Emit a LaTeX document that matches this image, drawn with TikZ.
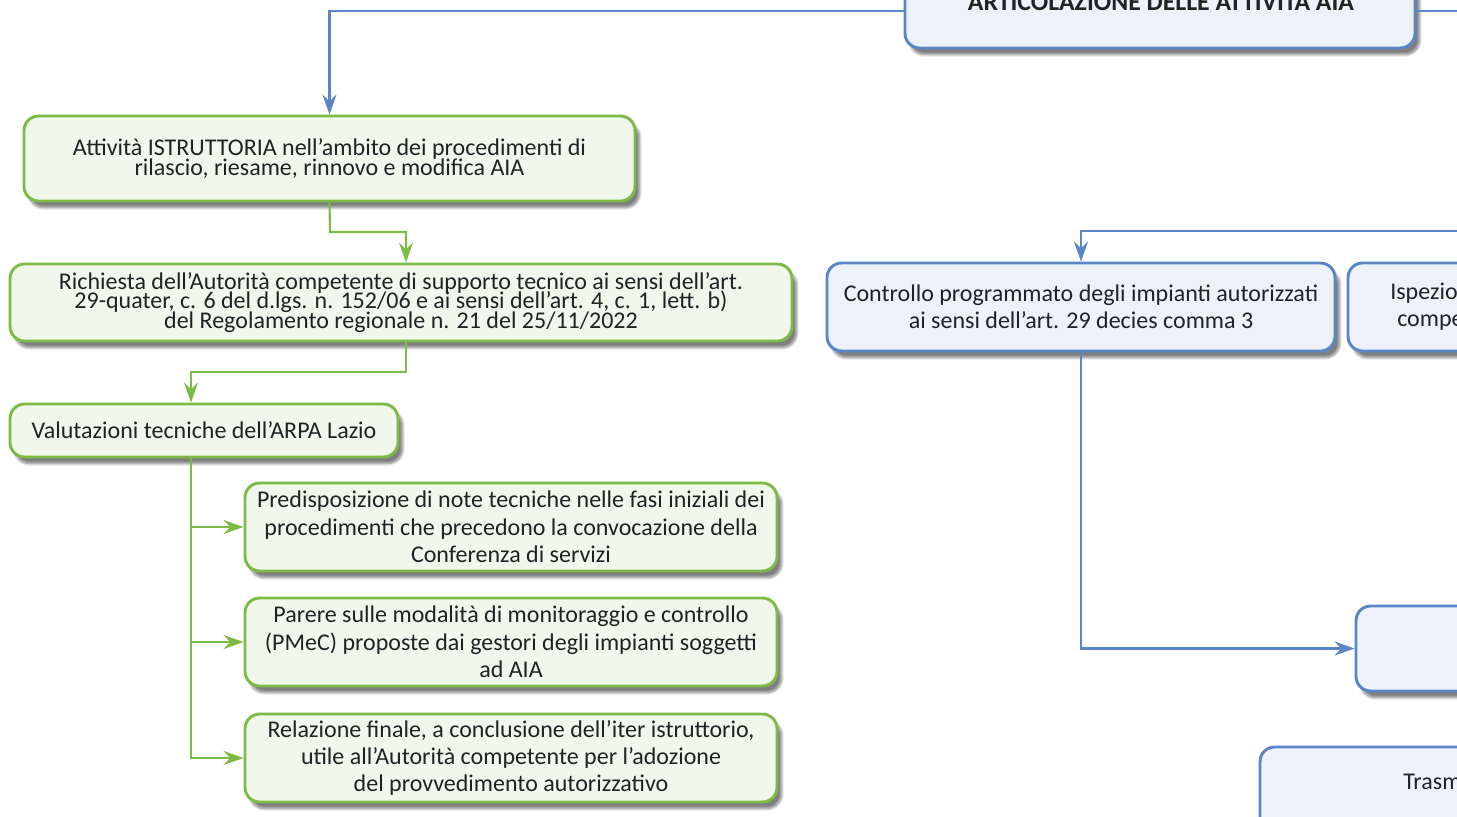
\documentclass[tikz,border=0pt]{standalone}
\usepackage{fontspec}
\setmainfont{Carlito}
\usetikzlibrary{arrows.meta,shadows.blur}
\definecolor{gborder}{HTML}{7DBA46}
\definecolor{gfill}{HTML}{F2F7EC}
\definecolor{bborder}{HTML}{5A86C6}
\definecolor{bfill}{HTML}{EDF1FA}
\definecolor{txt}{HTML}{222222}
\newcommand\mytightlines{\fontsize{18}{14.8}\selectfont\lineskiplimit=-20pt\relax\lineskip=0pt\relax}
\tikzset{
  box/.style={rounded corners=11pt, line width=2.2pt,
    blur shadow={shadow xshift=3.5pt, shadow yshift=-5pt, shadow blur steps=8, shadow opacity=50},
    text=txt, align=center, inner sep=0pt,
    font=\fontsize{18}{20.5}\selectfont},
  gbox/.style={box, draw=gborder, fill=gfill},
  bbox/.style={box, draw=bborder, fill=bfill},
  tight/.style={font=\mytightlines},
  tip/.style={-{Stealth[length=15pt,width=10.5pt,inset=5pt]}},
  gline/.style={draw=gborder, line width=1.6pt},
  bline/.style={draw=bborder, line width=1.6pt},
  plain/.style={text=txt, inner sep=0pt, font=\fontsize{18}{20.5}\selectfont},
}
\begin{document}
\begin{tikzpicture}[x=0.75pt,y=-0.75pt]
\useasboundingbox (0,0) rectangle (1457,817);
\clip (0,0) rectangle (1457,817);
% header
\node[bbox, minimum width=382.5pt, minimum height=55.5pt] (H) at (1160,11) {};
\node[plain, anchor=base, font=\fontsize{19.3}{22}\selectfont\bfseries] (Ht) at (1161,11) {ARTICOLAZIONE DELLE ATTIVITÀ AIA};
% green boxes
\node[gbox, tight, minimum width=458.25pt, minimum height=63.75pt] (A) at (329.5,158.5)
  {Attività ISTRUTTORIA nell’ambito dei procedimenti di\\ rilascio, riesame, rinnovo e modifica AIA};
\node[gbox, tight, minimum width=586.5pt, minimum height=57.75pt] (R) at (401,302.5)
  {Richiesta dell’Autorità competente di supporto tecnico ai sensi dell’art.\\ 29-quater, c. 6 del d.lgs. n. 152/06 e ai sensi dell’art. 4, c. 1, lett. b)\\ del Regolamento regionale n. 21 del 25/11/2022};
\node[gbox, minimum width=291pt, minimum height=39.75pt] (V) at (204,430.5)
  {Valutazioni tecniche dell’ARPA Lazio};
\node[gbox, minimum width=399pt, minimum height=66pt] (P1) at (511,527)
  {Predisposizione di note tecniche nelle fasi iniziali dei\\ procedimenti che precedono la convocazione della\\ Conferenza di servizi};
\node[gbox, minimum width=399pt, minimum height=66pt] (P2) at (511,642)
  {Parere sulle modalità di monitoraggio e controllo\\ (PMeC) proposte dai gestori degli impianti soggetti\\ ad AIA};
\node[gbox, minimum width=399pt, minimum height=66pt] (P3) at (511,758)
  {Relazione finale, a conclusione dell’iter istruttorio,\\ utile all’Autorità competente per l’adozione\\ del provvedimento autorizzativo};
% blue boxes
\node[bbox, minimum width=381pt, minimum height=66pt] (C) at (1081,307)
  {Controllo programmato degli impianti autorizzati\\ ai sensi dell’art. 29 decies comma 3};
\node[bbox, minimum width=381pt, minimum height=66pt] (I) at (1602,307) {};
\node[plain, anchor=base west] (It1) at (1390,299) {Ispezioni};
\node[plain, anchor=base west] (It2) at (1397,326) {competente};
\node[bbox, minimum width=381pt, minimum height=63.75pt] (M) at (1610,648.5) {};
\node[bbox, minimum width=525pt, minimum height=66pt] (T) at (1610,791) {};
\node[plain, anchor=base west] (Tt) at (1403,789) {Trasmissione};
% green connectors
\coordinate (a1) at (330,232);
\coordinate (a2) at (406,232);
\draw[gline, tip] (A.south) -- (a1) -- (a2) -- (a2 |- R.north);
\coordinate (b1) at (406,372);
\coordinate (b2) at (191,372);
\draw[gline, tip] (b1 |- R.south) -- (b1) -- (b2) -- (b2 |- V.north);
\coordinate (t) at (191,0);
\draw[gline, tip] (t |- V.south) |- (P3.west);
\draw[gline, tip] (t |- P1.west) -- (P1.west);
\draw[gline, tip] (t |- P2.west) -- (P2.west);
% blue connectors
\coordinate (hr) at (1470,11);
\draw[bline, tip] (H.west) -| (A.north);
\draw[bline] (H.east) -- (hr);
\coordinate (c0) at (1470,231);
\draw[bline, tip] (c0) -| (C.north);
\draw[bline, tip] (C.south) |- (M.west);
\end{tikzpicture}
\end{document}
